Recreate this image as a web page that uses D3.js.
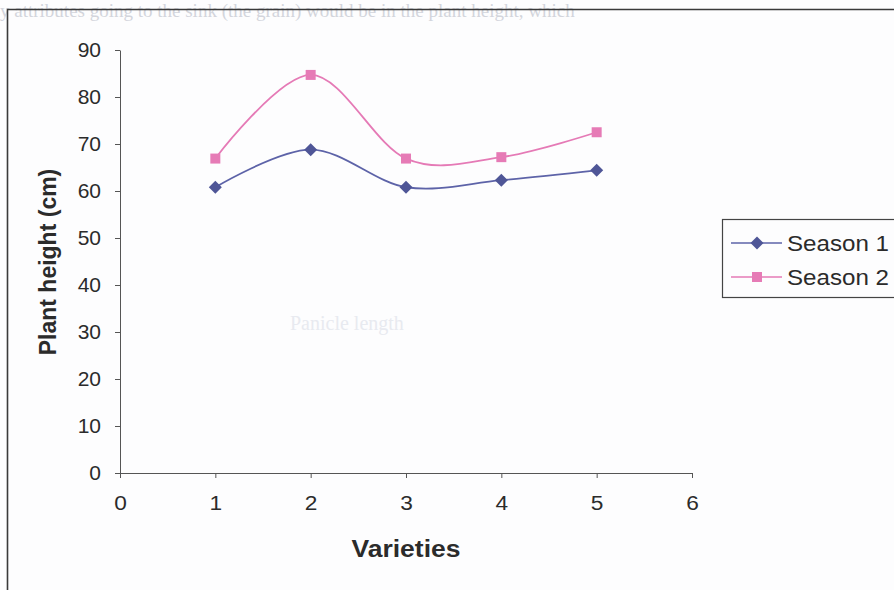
<!DOCTYPE html>
<html>
<head>
<meta charset="utf-8">
<script src="https://cdn.jsdelivr.net/npm/d3@7"></script>
<style>
  body { margin: 0; background: #fdfdfe; }
  svg { display: block; }
  text { font-family: "Liberation Sans", Arial, sans-serif; fill: #2b2b2b; }
</style>
</head>
<body>
<div id="chart"></div>
<script>
// data
var varieties = [1, 2, 3, 4, 5];
var season1 = [60.8, 68.8, 60.8, 62.3, 64.4];
var season2 = [66.9, 84.7, 66.9, 67.2, 72.5];
var seriesNames = ['Season 1', 'Season 2'];
var xTicks = [0, 1, 2, 3, 4, 5, 6];
var yTicks = [0, 10, 20, 30, 40, 50, 60, 70, 80, 90];

var width = 894, height = 590;
var margin = {top: 50, left: 120, right: 202, bottom: 117};

var svg = d3.select('#chart')
    .append('svg')
    .attr('width', width)
    .attr('height', height);

// faint bleed-through from the scanned page
svg.append('text')
    .attr('x', 0).attr('y', 17)
    .style('font-family', 'Liberation Serif, serif')
    .style('font-size', '19px')
    .style('fill', '#d3d5dc')
    .text('y attributes going to the sink (the grain) would be in the plant height, which');
svg.append('text')
    .attr('x', 290).attr('y', 330)
    .style('font-family', 'Liberation Serif, serif')
    .style('font-size', '20px')
    .style('fill', '#e8eaf0')
    .text('Panicle length');

// chart frame
svg.append('path')
    .attr('d', 'M7.5,' + height + 'V9.5H' + width)
    .attr('fill', 'none')
    .attr('stroke', '#3a3a3a')
    .attr('stroke-width', 1.6);

var x = d3.scaleLinear()
    .domain([0, 6])
    .range([margin.left, width - margin.right]);

var y = d3.scaleLinear()
    .domain([0, 90])
    .range([height - margin.bottom, margin.top]);

var xAxis = svg.append('g')
    .attr('transform', 'translate(0,' + y(0) + ')')
    .call(d3.axisBottom(x).tickValues(xTicks).tickFormat(d3.format('d'))
        .tickSize(5).tickSizeOuter(0).tickPadding(17));
xAxis.select('.domain').attr('stroke', '#555');
xAxis.selectAll('line').attr('stroke', '#555');
xAxis.selectAll('text').style('font-size', '21px').style('fill', '#2b2b2b')
    .attr('transform', 'scale(1.08,1)');

var yAxis = svg.append('g')
    .attr('transform', 'translate(' + x(0) + ',0)')
    .call(d3.axisLeft(y).tickValues(yTicks).tickSize(5).tickSizeOuter(0).tickPadding(14));
yAxis.select('.domain').attr('stroke', '#555');
yAxis.selectAll('line').attr('stroke', '#555');
yAxis.selectAll('text').style('font-size', '21px').style('fill', '#2b2b2b');

svg.append('text')
    .attr('x', 406).attr('y', 557)
    .attr('text-anchor', 'middle')
    .style('font-size', '23px')
    .style('font-weight', 'bold')
    .attr('textLength', 109)
    .attr('lengthAdjust', 'spacingAndGlyphs')
    .text('Varieties');

svg.append('text')
    .attr('transform', 'translate(56,262)rotate(-90)')
    .attr('text-anchor', 'middle')
    .style('font-size', '23px')
    .style('font-weight', 'bold')
    .text('Plant height (cm)');

var colors = ['#5d63a8', '#e57ab6'];
var markerColors = ['#4f5697', '#e67bb6'];

// Excel style markers: square-ish diamond and square
function marker(i) {
    return i === 0 ? 'M0,-6.5L6.5,0L0,6.5L-6.5,0Z' : 'M-5,-5H5V5H-5Z';
}

var series = [season1, season2].map(function(vals, i) {
    return {
        name: seriesNames[i],
        values: vals.map(function(v, j) { return {x: varieties[j], y: v}; })
    };
});

var line = d3.line()
    .x(function(d) { return x(d.x); })
    .y(function(d) { return y(d.y); })
    .curve(d3.curveCardinal.tension(0));

series.forEach(function(s, i) {
    svg.append('path')
        .datum(s.values)
        .attr('d', line)
        .attr('fill', 'none')
        .attr('stroke', colors[i])
        .attr('stroke-width', 1.8);

    svg.selectAll('.pt' + i)
        .data(s.values)
        .enter()
        .append('path')
        .attr('class', 'pt' + i)
        .attr('d', marker(i))
        .attr('transform', function(d) { return 'translate(' + x(d.x) + ',' + y(d.y) + ')'; })
        .attr('fill', markerColors[i]);
});

// legend
var legend = svg.append('g');
legend.append('rect')
    .attr('x', 722.5).attr('y', 219.5)
    .attr('width', 200).attr('height', 78)
    .attr('fill', '#fdfdfe')
    .attr('stroke', '#444')
    .attr('stroke-width', 1.2);

series.forEach(function(s, i) {
    var ly = 243 + i * 34;
    legend.append('line')
        .attr('x1', 731).attr('x2', 782)
        .attr('y1', ly).attr('y2', ly)
        .attr('stroke', colors[i])
        .attr('stroke-width', 1.6);
    legend.append('path')
        .attr('d', marker(i))
        .attr('transform', 'translate(757,' + ly + ')')
        .attr('fill', markerColors[i]);
    legend.append('text')
        .attr('x', 787).attr('y', ly + 8)
        .style('font-size', '22px')
        .attr('textLength', 102)
        .attr('lengthAdjust', 'spacingAndGlyphs')
        .text(s.name);
});
</script>
</body>
</html>
